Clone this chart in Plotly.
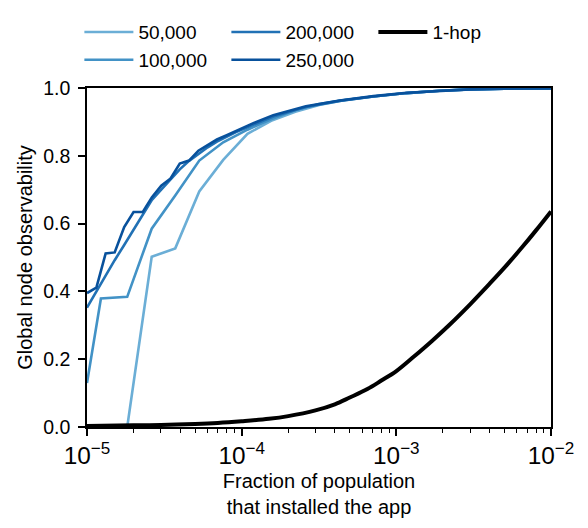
import plotly.graph_objects as go

# fraction of population that installed the app (x) and global node observability (y)
frac_fine = [1.00e-5, 1.15e-5, 1.32e-5, 1.51e-5, 1.74e-5, 2.00e-5, 2.29e-5, 2.63e-5,
             3.02e-5, 3.47e-5, 3.98e-5, 4.57e-5, 5.25e-5, 6.03e-5, 6.92e-5, 7.94e-5,
             9.12e-5, 1.05e-4, 1.20e-4, 1.60e-4, 2.60e-4, 4.30e-4, 7.10e-4, 1.17e-3,
             1.90e-3, 3.00e-3, 5.00e-3, 1.00e-2]
obs_250k = [0.395, 0.411, 0.512, 0.515, 0.590, 0.634, 0.634, 0.678, 0.712, 0.733,
            0.777, 0.786, 0.815, 0.831, 0.848, 0.860, 0.873, 0.886, 0.897, 0.920,
            0.946, 0.963, 0.976, 0.986, 0.992, 0.996, 0.998, 0.999]
obs_200k = [0.352, 0.400, 0.447, 0.492, 0.537, 0.583, 0.628, 0.670, 0.700, 0.730,
            0.760, 0.785, 0.806, 0.825, 0.842, 0.856, 0.869, 0.881, 0.892, 0.916,
            0.944, 0.962, 0.975, 0.985, 0.992, 0.996, 0.998, 0.999]

frac_100k = [1.00e-5, 1.23e-5, 1.82e-5, 2.62e-5, 3.72e-5, 5.32e-5, 7.60e-5, 1.09e-4,
             1.55e-4, 2.22e-4, 3.17e-4, 4.50e-4, 7.10e-4, 1.17e-3, 1.90e-3, 3.00e-3,
             5.00e-3, 1.00e-2]
obs_100k = [0.130, 0.379, 0.384, 0.585, 0.683, 0.786, 0.840, 0.877, 0.908, 0.935,
            0.953, 0.964, 0.975, 0.985, 0.992, 0.996, 0.998, 0.999]

frac_50k = [1.82e-5, 2.62e-5, 3.72e-5, 5.32e-5, 7.60e-5, 1.09e-4, 1.55e-4, 2.22e-4,
            3.17e-4, 4.50e-4, 7.10e-4, 1.17e-3, 1.90e-3, 3.00e-3, 5.00e-3, 1.00e-2]
obs_50k = [0.0, 0.502, 0.527, 0.695, 0.788, 0.865, 0.903, 0.930, 0.950, 0.963,
           0.975, 0.985, 0.992, 0.996, 0.998, 0.999]

frac_hop = [1e-5, 2e-5, 3e-5, 5e-5, 7e-5, 1e-4, 1.5e-4, 2e-4, 3e-4, 4e-4, 5e-4,
            6.5e-4, 8e-4, 1e-3, 1.3e-3, 1.7e-3, 2.2e-3, 3e-3, 4e-3, 5e-3, 6.5e-3,
            8e-3, 1e-2]
obs_hop = [0.003, 0.005, 0.006, 0.009, 0.012, 0.017, 0.024, 0.032, 0.049, 0.067,
           0.087, 0.112, 0.137, 0.165, 0.208, 0.254, 0.301, 0.362, 0.422, 0.470,
           0.530, 0.580, 0.636]

FONT = 'Liberation Sans, Arial, Helvetica, sans-serif'

# name, x, y, colour, legend slot (legend is 3 columns, filled row by row)
series = [
    ('50,000', frac_50k, obs_50k, '#6baed6', 1),
    ('100,000', frac_100k, obs_100k, '#4292c6', 4),
    ('200,000', frac_fine, obs_200k, '#2171b5', 2),
    ('250,000', frac_fine, obs_250k, '#08519c', 5),
]

fig = go.Figure()
for name, xs, ys, color, rank in series:
    fig.add_trace(go.Scatter(x=xs, y=ys, mode='lines', name=name, legendrank=rank,
                             line=dict(color=color, width=2.6)))

fig.add_trace(go.Scatter(x=frac_hop, y=obs_hop, mode='lines', name='1-hop', legendrank=3,
                         line=dict(color='black', width=4, shape='spline')))

axis_style = dict(showline=True, linecolor='black', linewidth=1.5, mirror=True,
                  ticks='outside', ticklen=7, tickwidth=1.5, tickcolor='black',
                  showgrid=False, zeroline=False,
                  tickfont=dict(size=19.5, color='black'),
                  title_font=dict(size=20, color='black'))

fig.update_xaxes(type='log', range=[-5, -2], dtick=1, exponentformat='power',
                 minor=dict(ticks='outside', ticklen=4, tickwidth=1, tickcolor='black'),
                 title_text='Fraction of population<br>that installed the app',
                 title_standoff=6, **axis_style)
fig.update_yaxes(range=[0, 1], dtick=0.2, tickformat='.1f', ticklabelstandoff=4,
                 title_text='Global node observability', title_standoff=5, **axis_style)

fig.update_layout(
    width=588, height=528,
    margin=dict(l=87, r=37, t=88, b=101, autoexpand=False),
    plot_bgcolor='white', paper_bgcolor='white',
    font=dict(family=FONT, size=18, color='black'),
    legend=dict(orientation='h', traceorder='normal', entrywidth=83,
                xref='container', yref='container', x=0.135, y=0.975,
                xanchor='left', yanchor='top', font=dict(size=19),
                itemwidth=49, tracegroupgap=0),
)

fig.write_html('out.html', config={'displayModeBar': False},
               post_script="document.body.style.margin='0';")
